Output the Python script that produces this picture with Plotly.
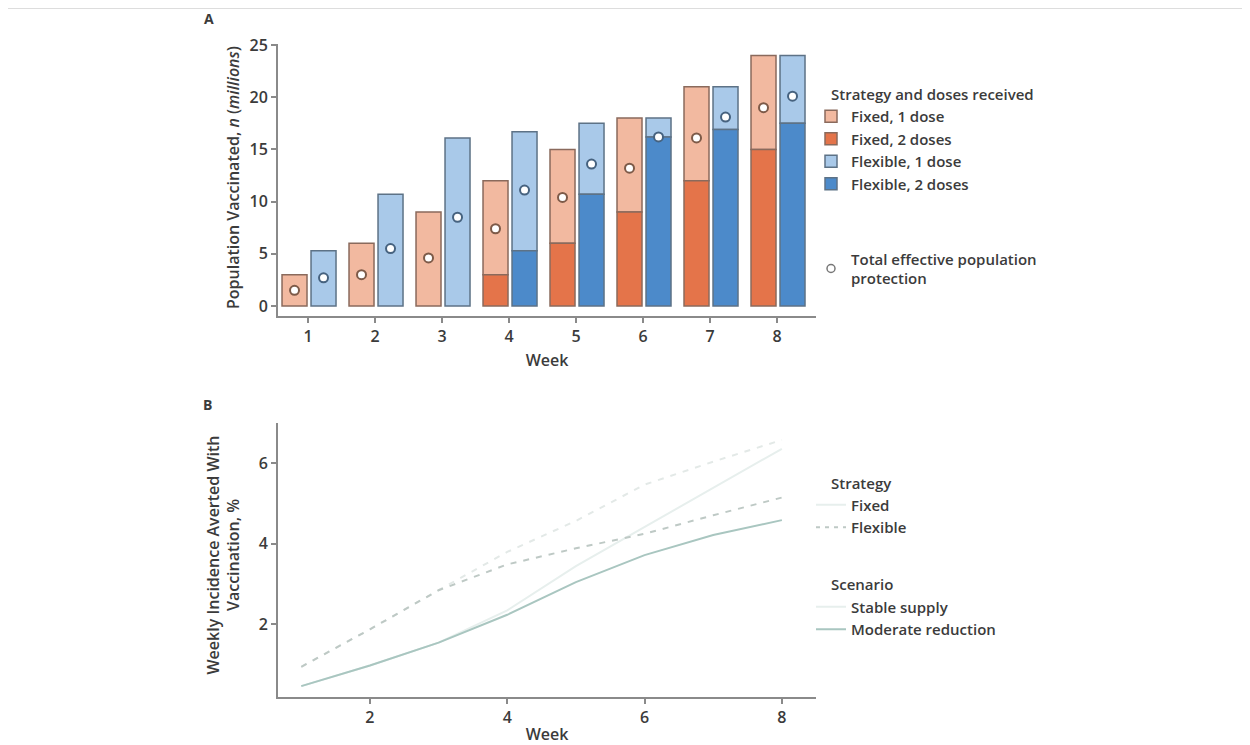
import plotly.graph_objects as go

# ---------------- Data ----------------
weeks = [1, 2, 3, 4, 5, 6, 7, 8]

# Panel A: population vaccinated (millions)
fixed_two_doses = [None, None, None, 3, 6, 9, 12, 15]
fixed_one_dose = [3, 6, 9, 9, 9, 9, 9, 9]
fixed_one_base = [0, 0, 0, 3, 6, 9, 12, 15]
flex_two_doses = [None, None, None, 5.3, 10.7, 16.2, 16.9, 17.5]
flex_one_dose = [5.3, 10.7, 16.1, 11.4, 6.8, 1.8, 4.1, 6.5]
flex_one_base = [0, 0, 0, 5.3, 10.7, 16.2, 16.9, 17.5]
fixed_protection = [1.5, 3.0, 4.6, 7.4, 10.4, 13.2, 16.1, 19.0]
flex_protection = [2.7, 5.5, 8.5, 11.1, 13.6, 16.2, 18.1, 20.1]

# Panel B: weekly incidence averted with vaccination (%)
fixed_stable = [0.47, 0.98, 1.55, 2.35, 3.45, 4.42, 5.4, 6.36]
fixed_moderate = [0.47, 0.98, 1.55, 2.24, 3.05, 3.72, 4.22, 4.59]
flex_stable = [0.95, 1.88, 2.85, 3.8, 4.57, 5.47, 6.04, 6.58]
flex_moderate = [0.95, 1.88, 2.85, 3.49, 3.89, 4.25, 4.71, 5.15]

# ---------------- Style ----------------
# page body has an 8px margin; figure sized to reach the window's right and bottom edges
PAD = 8
FW, FH = 1250 - PAD, 745 - PAD
FONT = "Open Sans"
TXT = "#3b3b3b"
AXC = "#8a8a8a"

C_FIX1 = "#F2B9A0"
C_FIX2 = "#E4744A"
C_FLX1 = "#A9C9E9"
C_FLX2 = "#4C8ACA"
OUT_FIX = "#8a6a5c"
OUT_FLX = "#5d7286"

BAR_W = 0.373
OFF_FIX = -0.388
OFF_FLX = 0.045

C_MOD = "#A9C6C0"
C_MOD_DASH = "#BEC9C5"
C_STABLE = "#E7EFED"
C_STABLE_DASH = "#E3E9E7"


def fx(p):
    """screen pixel x -> paper x"""
    return (p - PAD) / FW


def fy(p):
    """screen pixel y -> paper y"""
    return 1 - (p - PAD) / FH


fig = go.Figure()

# Panel A bars
fig.add_trace(go.Bar(x=weeks, y=fixed_one_dose, base=fixed_one_base, name="Fixed, 1 dose",
                     width=BAR_W, offset=OFF_FIX, marker=dict(color=C_FIX1, line=dict(color=OUT_FIX, width=1.5)),
                     xaxis="x", yaxis="y", legend="legend"))
fig.add_trace(go.Bar(x=weeks, y=fixed_two_doses, name="Fixed, 2 doses",
                     width=BAR_W, offset=OFF_FIX, marker=dict(color=C_FIX2, line=dict(color=OUT_FIX, width=1.5)),
                     xaxis="x", yaxis="y", legend="legend"))
fig.add_trace(go.Bar(x=weeks, y=flex_one_dose, base=flex_one_base, name="Flexible, 1 dose",
                     width=BAR_W, offset=OFF_FLX, marker=dict(color=C_FLX1, line=dict(color=OUT_FLX, width=1.5)),
                     xaxis="x", yaxis="y", legend="legend"))
fig.add_trace(go.Bar(x=weeks, y=flex_two_doses, name="Flexible, 2 doses",
                     width=BAR_W, offset=OFF_FLX, marker=dict(color=C_FLX2, line=dict(color=OUT_FLX, width=1.5)),
                     xaxis="x", yaxis="y", legend="legend"))

# Protection circles (centered on bars)
fig.add_trace(go.Scatter(x=[w + OFF_FIX + BAR_W / 2 for w in weeks], y=fixed_protection, mode="markers",
                         marker=dict(size=9, color="white", line=dict(color="#7d5a48", width=2)),
                         showlegend=False, xaxis="x", yaxis="y"))
fig.add_trace(go.Scatter(x=[w + OFF_FLX + BAR_W / 2 for w in weeks], y=flex_protection, mode="markers",
                         marker=dict(size=9, color="white", line=dict(color="#46627f", width=2)),
                         showlegend=False, xaxis="x", yaxis="y"))
fig.add_trace(go.Scatter(x=[None], y=[None], mode="markers",
                         marker=dict(size=8, color="white", line=dict(color="#777777", width=1.5)),
                         name="Total effective population<br>protection", legend="legend2",
                         xaxis="x", yaxis="y"))

# Panel B lines
fig.add_trace(go.Scatter(x=weeks, y=flex_stable, mode="lines", line=dict(color=C_STABLE_DASH, width=2, dash="6px,7px"),
                         showlegend=False, xaxis="x2", yaxis="y2"))
fig.add_trace(go.Scatter(x=weeks, y=fixed_stable, mode="lines", line=dict(color=C_STABLE, width=2),
                         showlegend=False, xaxis="x2", yaxis="y2"))
fig.add_trace(go.Scatter(x=weeks, y=flex_moderate, mode="lines", line=dict(color=C_MOD_DASH, width=2, dash="6px,7px"),
                         showlegend=False, xaxis="x2", yaxis="y2"))
fig.add_trace(go.Scatter(x=weeks, y=fixed_moderate, mode="lines", line=dict(color=C_MOD, width=2),
                         showlegend=False, xaxis="x2", yaxis="y2"))

# Legend entries for panel B
fig.add_trace(go.Scatter(x=[None], y=[None], mode="lines", line=dict(color=C_STABLE, width=2),
                         name="Fixed", legend="legend3", xaxis="x2", yaxis="y2"))
fig.add_trace(go.Scatter(x=[None], y=[None], mode="lines", line=dict(color=C_MOD_DASH, width=2, dash="4px,5px"),
                         name="Flexible", legend="legend3", xaxis="x2", yaxis="y2"))
fig.add_trace(go.Scatter(x=[None], y=[None], mode="lines", line=dict(color=C_STABLE, width=2),
                         name="Stable supply", legend="legend4", xaxis="x2", yaxis="y2"))
fig.add_trace(go.Scatter(x=[None], y=[None], mode="lines", line=dict(color=C_MOD, width=2),
                         name="Moderate reduction", legend="legend4", xaxis="x2", yaxis="y2"))

tickfont = dict(family=FONT, size=16, color=TXT, weight=600)
axfont = dict(family=FONT, size=16, color=TXT, weight=600)
legfont = dict(family=FONT, size=15, color=TXT, weight=600)

axis_common = dict(showline=True, linecolor=AXC, linewidth=2, ticks="outside", tickcolor=AXC,
                   ticklen=5, tickwidth=1.5, showgrid=False, zeroline=False, tickfont=tickfont)

LEG_X = fx(811)
leg_common = dict(x=LEG_X, xanchor="left", yanchor="top", font=legfont,
                  bgcolor="rgba(0,0,0,0)", tracegroupgap=0, itemwidth=30)


def label(text, x, y, size=15, weight=600, angle=0, xanchor="left"):
    return dict(text=text, x=fx(x), y=fy(y), xref="paper", yref="paper", showarrow=False,
                xanchor=xanchor, yanchor="middle", textangle=angle,
                font=dict(family=FONT, size=size, color=TXT, weight=weight))


fig.update_layout(
    width=FW, height=FH,
    margin=dict(l=0, r=0, t=0, b=0, autoexpand=False),
    paper_bgcolor="white", plot_bgcolor="white",
    barmode="overlay",
    font=dict(family=FONT, color=TXT),
    xaxis=dict(domain=[fx(278), fx(816)], range=[0.552, 8.582], anchor="y",
               tickvals=weeks, title=dict(text="Week", font=axfont, standoff=9), **axis_common),
    yaxis=dict(domain=[fy(316), fy(44)], range=[-0.96, 25.1], anchor="x",
               tickvals=[0, 5, 10, 15, 20, 25], **axis_common),
    xaxis2=dict(domain=[fx(278), fx(816)], range=[0.661, 8.497], anchor="y2",
                tickvals=[2, 4, 6, 8], title=dict(text="Week", font=axfont, standoff=14), **axis_common),
    yaxis2=dict(domain=[fy(697), fy(423)], range=[0.2, 7.0], anchor="x2",
                tickvals=[2, 4, 6], **axis_common),
    legend=dict(y=fy(100), **leg_common),
    legend2=dict(y=fy(242.5), **leg_common),
    legend3=dict(y=fy(488.5), **leg_common),
    legend4=dict(y=fy(590.5), **leg_common),
    annotations=[
        label("A", 202, 18, size=14, weight=700),
        label("B", 201, 404, size=14, weight=700),
        label("Strategy and doses received", 829, 94),
        label("Strategy", 829, 483),
        label("Scenario", 829, 584),
        label("Population Vaccinated, <i>n</i> (<i>millions</i>)", 233, 178, size=16, angle=-90,
              xanchor="center"),
        label("Weekly Incidence Averted With<br>Vaccination, %", 222.5, 555, size=16, angle=-90,
              xanchor="center"),
    ],
    shapes=[
        dict(type="line", xref="paper", yref="paper", x0=0, x1=1, y0=fy(8), y1=fy(8),
             line=dict(color="#dddddd", width=2)),
    ],
)

fig.write_html("out.html")
